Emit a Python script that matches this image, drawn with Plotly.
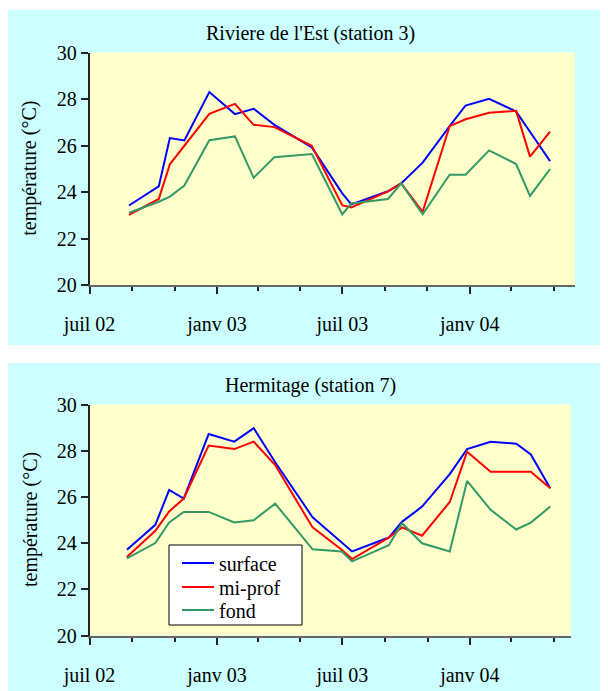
import plotly.graph_objects as go

# The page body adds an 8px margin; the figure is sized and positioned to compensate.
OX, OY = 8, 8
W, H = 608 - OX, 691 - OY

# ---- data ----
top_dates = ["2002-08-27", "2002-10-09", "2002-10-25", "2002-11-15", "2002-12-21",
             "2003-01-27", "2003-02-23", "2003-03-25", "2003-05-18", "2003-07-01",
             "2003-07-14", "2003-09-05", "2003-09-24", "2003-10-25", "2003-12-03",
             "2003-12-26", "2004-01-29", "2004-03-08", "2004-03-28", "2004-04-26"]
top_surface = [23.42, 24.24, 26.32, 26.22, 28.30, 27.35, 27.58, 26.89, 25.92, 23.94,
               23.47, 24.03, 24.37, 25.26, 26.83, 27.72, 28.01, 27.46, 26.59, 25.33]
top_miprof = [23.02, 23.70, 25.19, 26.00, 27.36, 27.79, 26.89, 26.79, 25.99, 23.42,
              23.34, 24.03, 24.37, 23.15, 26.83, 27.13, 27.41, 27.49, 25.52, 26.60]
top_fond = [23.11, 23.58, 23.80, 24.28, 26.23, 26.39, 24.61, 25.50, 25.63, 23.04,
            23.51, 23.70, 24.37, 23.04, 24.74, 24.74, 25.79, 25.20, 23.83, 24.99]

bot_dates = ["2002-08-24", "2002-10-04", "2002-10-24", "2002-11-14", "2002-12-20",
             "2003-01-26", "2003-02-23", "2003-03-26", "2003-05-19", "2003-06-30",
             "2003-07-15", "2003-09-06", "2003-09-25", "2003-10-24", "2003-12-03",
             "2003-12-28", "2004-01-31", "2004-03-08", "2004-03-29", "2004-04-26"]
bot_surface = [23.71, 24.79, 26.30, 25.93, 28.72, 28.39, 28.98, 27.50, 25.12, 24.00,
               23.64, 24.24, 24.92, 25.58, 26.99, 28.07, 28.39, 28.30, 27.84, 26.37]
bot_miprof = [23.40, 24.53, 25.37, 25.93, 28.22, 28.07, 28.39, 27.38, 24.68, 23.71,
              23.31, 24.24, 24.68, 24.32, 25.78, 27.96, 27.09, 27.09, 27.09, 26.37]
bot_fond = [23.34, 24.00, 24.89, 25.35, 25.35, 24.89, 24.99, 25.71, 23.73, 23.64,
            23.21, 23.91, 24.86, 23.99, 23.64, 26.69, 25.44, 24.59, 24.89, 25.58]

tick_vals = ["2002-07-01", "2003-01-01", "2003-07-01", "2004-01-01"]
tick_text = ["juil 02", "janv 03", "juil 03", "janv 04"]
titles = ["Riviere de l'Est (station 3)", "Hermitage (station 7)"]
y_title = "température (°C)"
series_names = ["surface", "mi-prof", "fond"]
colors = ["#0000FF", "#FF0000", "#339966"]

FONT = "Liberation Serif, Times New Roman, serif"
FS = 20

def px_x(p):
    return (p - OX) / W

def px_y(p):
    return 1 - (p - OY) / H

legend_ids = ["legend", "legend2", "legend3"]
legend_centers = [563, 587, 610]

fig = go.Figure()

for i, (vals, name) in enumerate(zip([top_surface, top_miprof, top_fond], series_names)):
    fig.add_trace(go.Scatter(x=top_dates, y=vals, mode="lines", name=name,
                             line=dict(color=colors[i], width=2),
                             xaxis="x", yaxis="y", showlegend=False))
for i, (vals, name) in enumerate(zip([bot_surface, bot_miprof, bot_fond], series_names)):
    fig.add_trace(go.Scatter(x=bot_dates, y=vals, mode="lines", name=name,
                             line=dict(color=colors[i], width=2),
                             xaxis="x2", yaxis="y2", showlegend=True,
                             legend=legend_ids[i]))

def xaxis_cfg(domain, rng, anchor):
    return dict(
        domain=domain, anchor=anchor, type="date", range=rng, automargin=False,
        tickmode="array", tickvals=tick_vals, ticktext=tick_text,
        ticks="outside", ticklen=7, tickwidth=1.5, tickcolor="#222",
        showline=True, linecolor="#666", linewidth=2,
        showgrid=False, zeroline=False,
        tickfont=dict(family=FONT, size=FS, color="black"),
        ticklabelstandoff=13,
        minor=dict(dtick="M2", tick0="2002-07-01", ticks="outside", ticklen=4,
                   tickwidth=1.5, tickcolor="#222", showgrid=False),
    )

def yaxis_cfg(domain, anchor):
    return dict(
        domain=domain, anchor=anchor, range=[20, 30], dtick=2, tick0=20, automargin=False,
        ticks="outside", ticklen=7, tickwidth=1.5, tickcolor="#222",
        showline=True, linecolor="#222", linewidth=1.5,
        showgrid=False, zeroline=False,
        tickfont=dict(family=FONT, size=FS, color="black"),
    )

def legend_cfg(yc):
    return dict(x=px_x(177), y=px_y(yc), xanchor="left", yanchor="middle",
                bgcolor="rgba(0,0,0,0)", borderwidth=0,
                font=dict(family=FONT, size=FS, color="black"),
                itemwidth=32, tracegroupgap=0)

fig.update_layout(
    width=W, height=H,
    margin=dict(l=0, r=0, t=0, b=0, autoexpand=False),
    paper_bgcolor="white",
    plot_bgcolor="rgba(0,0,0,0)",
    xaxis=xaxis_cfg([px_x(89.5), px_x(575)], ["2002-07-01", "2004-06-01"], "y"),
    yaxis=yaxis_cfg([px_y(285), px_y(52.5)], "x"),
    xaxis2=xaxis_cfg([px_x(89.5), px_x(571)], ["2002-07-01", "2004-05-26"], "y2"),
    yaxis2=yaxis_cfg([px_y(635.5), px_y(404.5)], "x2"),
    legend=legend_cfg(legend_centers[0]),
    legend2=legend_cfg(legend_centers[1]),
    legend3=legend_cfg(legend_centers[2]),
    showlegend=True,
    shapes=[
        dict(type="rect", xref="paper", yref="paper", x0=px_x(8), x1=1.0,
             y0=px_y(345), y1=px_y(10), fillcolor="#CCFFFF", line=dict(width=0), layer="below"),
        dict(type="rect", xref="paper", yref="paper", x0=px_x(8), x1=1.0,
             y0=0, y1=px_y(363), fillcolor="#CCFFFF", line=dict(width=0), layer="below"),
        dict(type="rect", xref="x domain", yref="y domain", x0=0, x1=1, y0=0, y1=1,
             fillcolor="#FFFFCC", line=dict(width=0), layer="below"),
        dict(type="rect", xref="x2 domain", yref="y2 domain", x0=0, x1=1, y0=0, y1=1,
             fillcolor="#FFFFCC", line=dict(width=0), layer="below"),
        # legend frame
        dict(type="rect", xref="paper", yref="paper", x0=px_x(169), x1=px_x(302),
             y0=px_y(625), y1=px_y(545), fillcolor="white",
             line=dict(width=1, color="black"), layer="above"),
    ],
    annotations=[
        dict(text=titles[0], xref="paper", yref="paper", x=px_x(310), y=px_y(33),
             xanchor="center", yanchor="middle", showarrow=False,
             font=dict(family=FONT, size=FS, color="black")),
        dict(text=titles[1], xref="paper", yref="paper", x=px_x(310), y=px_y(385),
             xanchor="center", yanchor="middle", showarrow=False,
             font=dict(family=FONT, size=FS, color="black")),
        dict(text=y_title, xref="paper", yref="y domain", x=px_x(30), y=0.5,
             xanchor="center", yanchor="middle", textangle=-90, showarrow=False,
             font=dict(family=FONT, size=FS, color="black")),
        dict(text=y_title, xref="paper", yref="y2 domain", x=px_x(30), y=0.5,
             xanchor="center", yanchor="middle", textangle=-90, showarrow=False,
             font=dict(family=FONT, size=FS, color="black")),
    ],
)

fig.write_html("out.html")
